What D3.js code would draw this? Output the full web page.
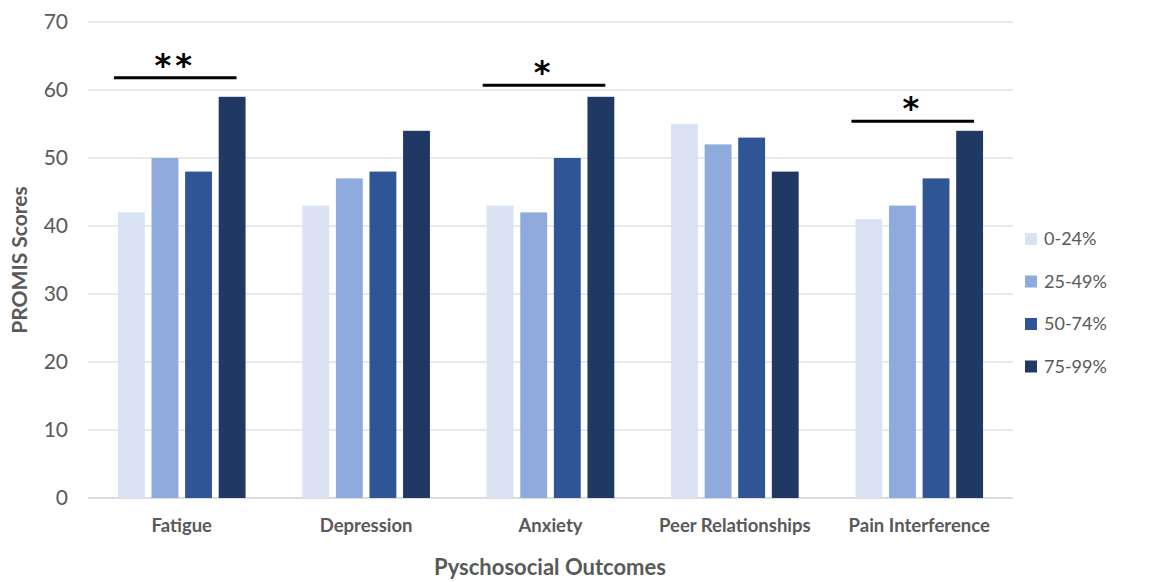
<!DOCTYPE html>
<html>
<head>
<meta charset="utf-8">
<script src="https://cdn.jsdelivr.net/npm/d3@7"></script>
<style>
  body { margin: 0; background: #fff; }
  svg { display: block; font-family: Lato, "Open Sans", sans-serif; }
</style>
</head>
<body>
<svg id="chart" width="1151" height="582"></svg>
<script>
// PROMIS scores by outcome and percentile group
const categories = ["Fatigue", "Depression", "Anxiety", "Peer Relationships", "Pain Interference"];
const groups = ["0-24%", "25-49%", "50-74%", "75-99%"];
const s0_24  = [42, 43, 43, 55, 41];
const s25_49 = [50, 47, 42, 52, 43];
const s50_74 = [48, 48, 50, 53, 47];
const s75_99 = [59, 54, 59, 48, 54];
const seriesValues = [s0_24, s25_49, s50_74, s75_99];
const yTicks = [0, 10, 20, 30, 40, 50, 60, 70];

// significance brackets: category, level on the score scale, stars
const sigCategories = ["Fatigue", "Anxiety", "Pain Interference"];
const sigLevels = [61.8, 60.7, 55.4];
const sigMarks = ["**", "*", "*"];

const colors = ["#DAE3F3", "#8FAADC", "#2F5597", "#203864"];

const svg = d3.select("#chart");
const margin = { left: 88, right: 138, top: 22, bottom: 84 };
const W = 1151, H = 582;
const plotW = W - margin.left - margin.right;
const plotH = H - margin.top - margin.bottom;

const g = svg.append("g").attr("transform", `translate(${margin.left},${margin.top})`);

const x0 = d3.scaleBand().domain(categories).range([0, plotW]).paddingInner(0.235).paddingOuter(0.126);
const x1 = d3.scaleBand().domain(groups).range([0, x0.bandwidth()]).padding(0.2);
const y = d3.scaleLinear().domain([0, 70]).range([plotH, 0]);

// gridlines
g.append("g").selectAll("line").data(yTicks).join("line")
  .attr("x1", 0).attr("x2", plotW)
  .attr("y1", d => y(d)).attr("y2", d => y(d))
  .attr("stroke", d => d === 0 ? "#d0d0d0" : "#e2e2e2").attr("stroke-width", 1.3);

// y tick labels
const yAxis = g.append("g").call(d3.axisLeft(y).tickValues(yTicks).tickSize(0).tickPadding(20));
yAxis.select(".domain").remove();
yAxis.selectAll("text").attr("font-size", 21).attr("fill", "#595959").attr("font-family", "Lato, sans-serif");

// bars
const rows = categories.map((c, i) => ({ cat: c, vals: groups.map((gname, j) => ({ group: gname, j, v: seriesValues[j][i] })) }));
g.append("g").selectAll("g").data(rows).join("g")
  .attr("transform", d => `translate(${x0(d.cat)},0)`)
  .selectAll("rect").data(d => d.vals).join("rect")
  .attr("x", d => x1(d.group))
  .attr("width", x1.bandwidth())
  .attr("y", d => y(d.v))
  .attr("height", d => y(0) - y(d.v))
  .attr("fill", d => colors[d.j]);

// x axis labels
const xAxis = g.append("g").attr("transform", `translate(0,${plotH})`)
  .call(d3.axisBottom(x0).tickSize(0).tickPadding(21));
xAxis.select(".domain").remove();
xAxis.selectAll("text").attr("font-size", 18.5).attr("font-weight", "bold")
  .attr("fill", "#595959").attr("font-family", "Lato, sans-serif");

// significance brackets
sigCategories.forEach((c, i) => {
  const xs = x0(c) + x1(groups[0]) - 4;
  const xe = x0(c) + x1(groups[3]) + x1.bandwidth() - 9;
  const yy = y(sigLevels[i]);
  g.append("line").attr("x1", xs).attr("x2", xe).attr("y1", yy).attr("y2", yy)
    .attr("stroke", "#000").attr("stroke-width", 3);
  g.append("text").attr("x", (xs + xe) / 2).attr("y", yy - 2)
    .attr("text-anchor", "middle").attr("font-size", 32).attr("font-weight", "bold")
    .attr("font-family", "DejaVu Sans, sans-serif").attr("letter-spacing", 4)
    .text(sigMarks[i]);
});

// axis titles
svg.append("text")
  .attr("transform", `translate(27,${margin.top + plotH / 2}) rotate(-90)`)
  .attr("text-anchor", "middle").attr("font-size", 21).attr("font-weight", "bold")
  .attr("fill", "#595959").text("PROMIS Scores");
svg.append("text")
  .attr("x", 550).attr("y", 575)
  .attr("text-anchor", "middle").attr("font-size", 22).attr("font-weight", "bold")
  .attr("fill", "#595959").text("Pyschosocial Outcomes");

// legend
const legend = svg.append("g").attr("transform", "translate(1025,239)");
const li = legend.selectAll("g").data(groups).join("g")
  .attr("transform", (d, i) => `translate(0,${i * 42.5})`);
li.append("rect").attr("x", 0).attr("y", -6).attr("width", 12).attr("height", 12)
  .attr("fill", (d, i) => colors[i]);
li.append("text").attr("x", 19).attr("y", 0).attr("dy", "0.35em")
  .attr("font-size", 18).attr("fill", "#595959").text(d => d);
</script>
</body>
</html>
